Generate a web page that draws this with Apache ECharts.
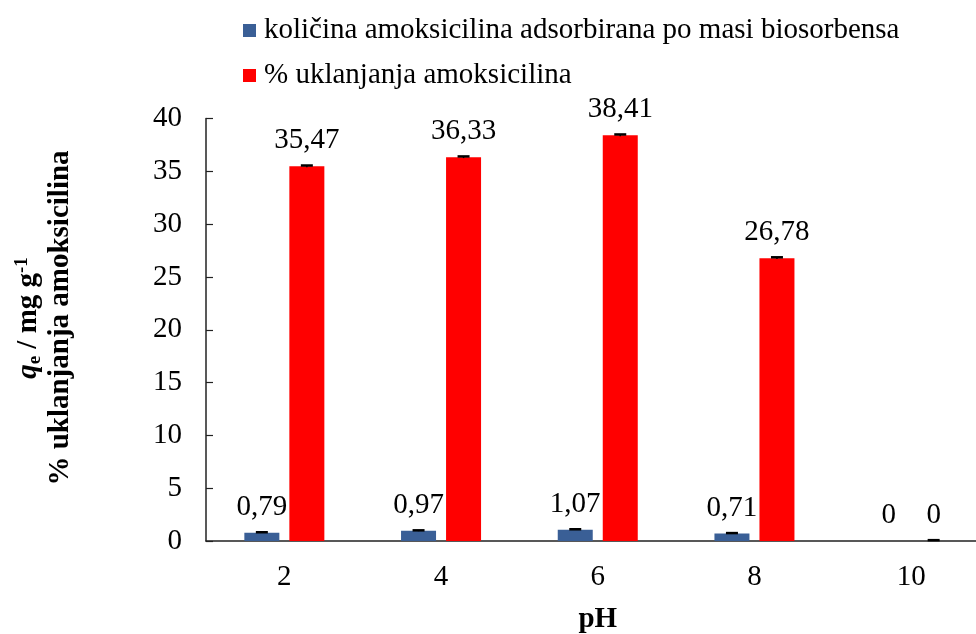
<!DOCTYPE html>
<html>
<head>
<meta charset="utf-8">
<script src="https://cdn.jsdelivr.net/npm/echarts@6/dist/echarts.min.js"></script>
<style>html,body{margin:0;padding:0;background:#fff}#c{width:976px;height:634px}</style>
</head>
<body>
<div id="c"></div>
<script>
const categories = ['2', '4', '6', '8', '10'];
const qeValues = [0.79, 0.97, 1.07, 0.71, 0];
const removalValues = [35.47, 36.33, 38.41, 26.78, 0];
const qeErrors = [0.04, 0.04, 0.04, 0.04, 0];
const removalErrors = [0.08, 0.08, 0.08, 0.08, 0.08];
const yTicks = [0, 5, 10, 15, 20, 25, 30, 35, 40];
const seriesNames = ['količina amoksicilina adsorbirana po masi biosorbensa', '% uklanjanja amoksicilina'];

const FONT = '"Liberation Serif", "Times New Roman", serif';
const BAR_W = 35, BAR_GAP = 10;

function fmt(v) { return String(v).replace('.', ','); }

function errSeries(values, errors, side) {
  return {
    type: 'custom',
    silent: true,
    z: 5,
    data: values.map((v, i) => [i, v, errors[i]]),
    renderItem: function (params, api) {
      const i = api.value(0), v = api.value(1), e = api.value(2);
      if (e <= 0 && v <= 0) return null;
      const off = side * (BAR_W + BAR_GAP) / 2;
      const top = api.coord([i, v + e]);
      const bot = api.coord([i, Math.max(v - e, 0)]);
      const x = top[0] + off;
      return {
        type: 'group',
        children: [
          { type: 'line', shape: { x1: x, y1: bot[1], x2: x, y2: top[1] }, style: { stroke: '#000', lineWidth: 1.5 } },
          { type: 'line', shape: { x1: x - 6, y1: top[1], x2: x + 6, y2: top[1] }, style: { stroke: '#000', lineWidth: 2.5 } }
        ]
      };
    }
  };
}

const chart = echarts.init(document.getElementById('c'), null, { renderer: 'canvas' });
chart.setOption({
  animation: false,
  backgroundColor: '#fff',
  textStyle: { fontFamily: FONT },
  grid: { left: 206, top: 118.5, right: -13.5, bottom: 93, containLabel: false, outerBoundsMode: 'none' },
  legend: {
    orient: 'vertical',
    left: 243,
    top: 16,
    padding: 0,
    itemWidth: 13,
    itemHeight: 13,
    itemGap: 16,
    icon: 'rect',
    textStyle: { fontFamily: FONT, fontSize: 29, color: '#000', padding: [0, 0, 0, 3] },
    data: seriesNames
  },
  graphic: [{
    type: 'text',
    x: 45,
    y: 318,
    rotation: Math.PI / 2,
    silent: true,
    style: {
      text: '{qi|q}{sub|e}{b| / mg g}{sup|-1}\n{b|% uklanjanja amoksicilina}',
      align: 'center',
      verticalAlign: 'middle',
      fill: '#000',
      rich: {
        qi: { fontFamily: FONT, fontSize: 29, fontWeight: 'bold', fontStyle: 'italic', lineHeight: 32, fill: '#000' },
        sub: { fontFamily: FONT, fontSize: 19, fontWeight: 'bold', verticalAlign: 'bottom', lineHeight: 32, fill: '#000' },
        sup: { fontFamily: FONT, fontSize: 19, fontWeight: 'bold', verticalAlign: 'top', lineHeight: 32, fill: '#000' },
        b: { fontFamily: FONT, fontSize: 29, fontWeight: 'bold', lineHeight: 32, fill: '#000' }
      }
    }
  }],
  xAxis: {
    type: 'category',
    data: categories,
    name: 'pH',
    nameLocation: 'middle',
    nameGap: 64,
    nameTextStyle: { fontFamily: FONT, fontSize: 29, fontWeight: 'bold', color: '#000' },
    axisLine: { lineStyle: { color: '#222', width: 1.5 } },
    axisTick: { inside: true, length: 7, lineStyle: { color: '#222', width: 1.2 } },
    axisLabel: { fontFamily: FONT, fontSize: 29, color: '#000', margin: 22 },
    splitLine: { show: false }
  },
  yAxis: {
    type: 'value',
    min: yTicks[0],
    max: yTicks[yTicks.length - 1],
    interval: 5,
    axisLine: { show: true, lineStyle: { color: '#222', width: 1.5 } },
    axisTick: { show: true, inside: true, length: 7, lineStyle: { color: '#222', width: 1.2 } },
    axisLabel: { fontFamily: FONT, fontSize: 29, color: '#000', margin: 24 },
    splitLine: { show: false }
  },
  series: [
    {
      name: seriesNames[0],
      type: 'bar',
      data: qeValues,
      barWidth: BAR_W,
      barGap: (BAR_GAP / BAR_W * 100).toFixed(1) + '%',
      itemStyle: { color: '#3A5F96' },
      label: { show: true, position: 'top', distance: 11, fontFamily: FONT, fontSize: 29, color: '#000', formatter: p => fmt(p.value) }
    },
    {
      name: seriesNames[1],
      type: 'bar',
      data: removalValues,
      barWidth: BAR_W,
      itemStyle: { color: '#FF0000' },
      label: { show: true, position: 'top', distance: 11, fontFamily: FONT, fontSize: 29, color: '#000', formatter: p => fmt(p.value) }
    },
    errSeries(qeValues, qeErrors, -1),
    errSeries(removalValues, removalErrors, 1)
  ]
});
</script>
</body>
</html>
